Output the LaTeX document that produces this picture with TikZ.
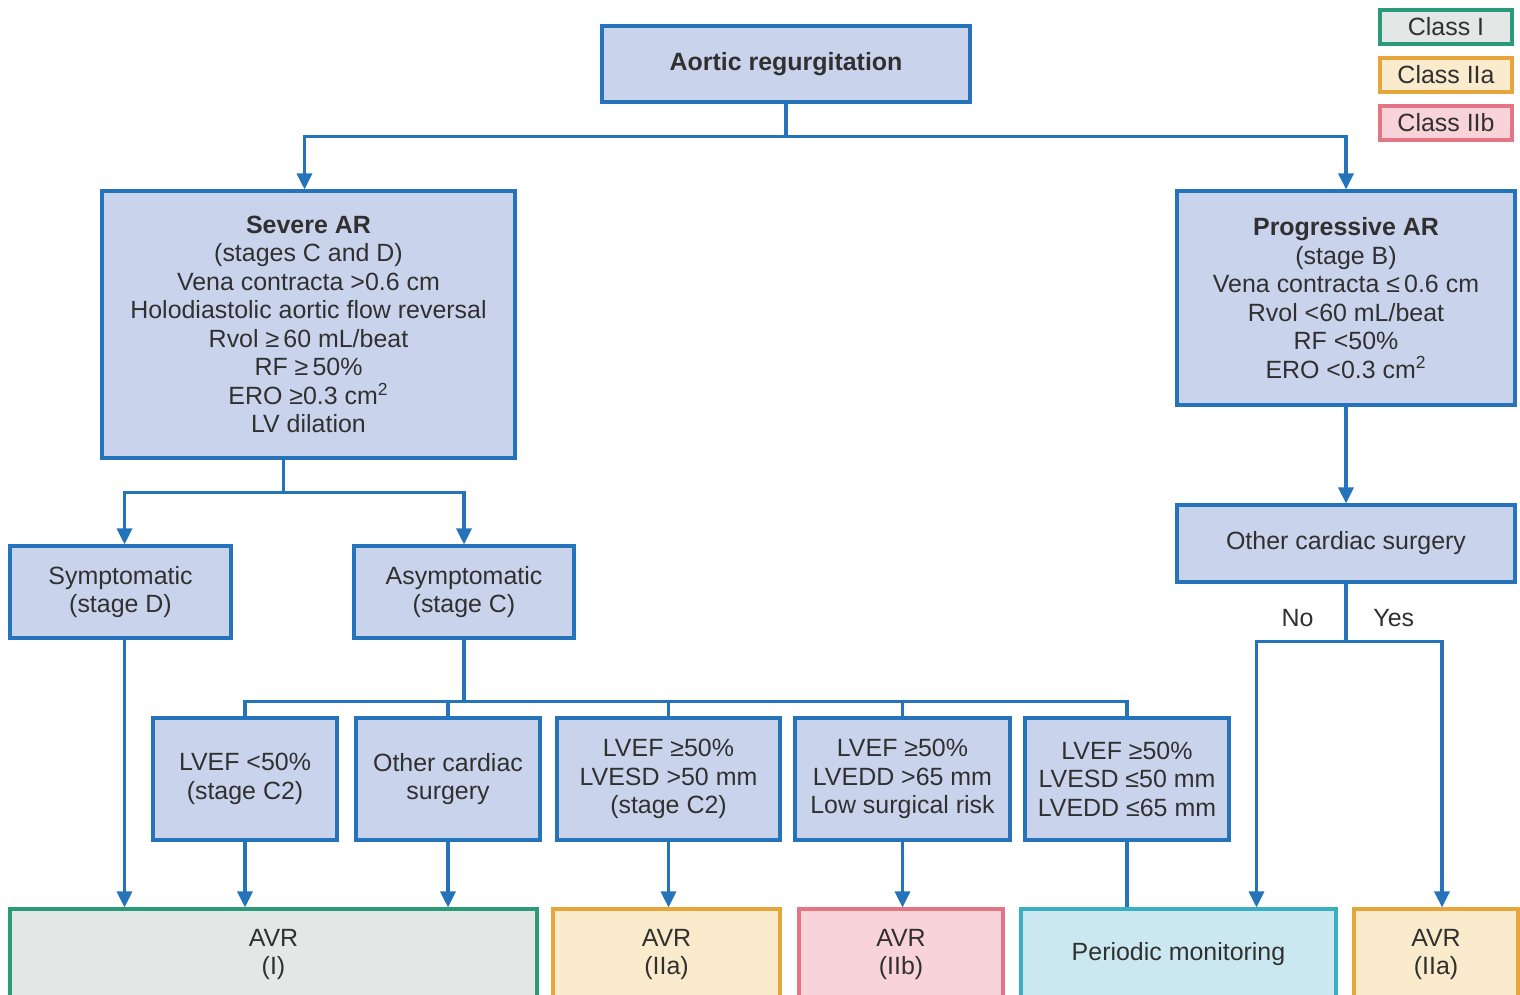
\documentclass[tikz,border=0pt]{standalone}
\usepackage{fontspec}
\setmainfont{Liberation Sans}
\usetikzlibrary{arrows.meta,positioning}
\definecolor{flowblue}{HTML}{2573BA}
\definecolor{boxfill}{HTML}{C9D4EC}
\definecolor{inktext}{HTML}{303030}
\definecolor{classIline}{HTML}{2A9A78}
\definecolor{classIfill}{HTML}{E3E8E6}
\definecolor{classIIaline}{HTML}{E6A63C}
\definecolor{classIIafill}{HTML}{F9EBCC}
\definecolor{classIIbline}{HTML}{E47584}
\definecolor{classIIbfill}{HTML}{F9D3DA}
\definecolor{monline}{HTML}{3AAFC2}
\definecolor{monfill}{HTML}{CBE8F0}

\begin{document}
\begin{tikzpicture}[
    x=0.02cm, y=-0.02cm,
    every node/.style={font=\fontsize{14.2}{16.2}\selectfont, text=inktext},
    box/.style={
        rectangle,
        draw=flowblue,
        fill=boxfill,
        line width=1.8pt,
        align=center,
        inner sep=2pt
    },
    result/.style={rectangle, line width=1.8pt, align=center, inner sep=2pt},
    classI/.style={result, draw=classIline, fill=classIfill},
    classIIa/.style={result, draw=classIIaline, fill=classIIafill},
    classIIb/.style={result, draw=classIIbline, fill=classIIbfill},
    watch/.style={result, draw=monline, fill=monfill},
    link/.style={draw=flowblue, line width=1.8pt},
    arrow/.style={link, -{Triangle[length=0.32cm, width=0.3cm]}}
]
    \useasboundingbox (0,0) rectangle (1520,994);
    \clip (0,0) rectangle (1520,994);

    % legend
    \node[classI, minimum width=2.64cm, minimum height=0.68cm] (keyI) at (1446,27) {Class I};
    \node[classIIa, minimum width=2.64cm, minimum height=0.68cm] (keyIIa) at (1446,75) {Class IIa};
    \node[classIIb, minimum width=2.64cm, minimum height=0.68cm] (keyIIb) at (1446,123) {Class IIb};

    % first two levels
    \node[box, minimum width=7.36cm, minimum height=1.52cm] (ar) at (786,64)
        {\textbf{Aortic regurgitation}};
    \node[box, minimum width=8.26cm, minimum height=5.34cm] (severe) at (308.5,324.5)
        {\textbf{Severe AR}\\(stages C and D)\\Vena contracta >0.6 cm\\
         Holodiastolic aortic flow reversal\\Rvol ≥\,60 mL/beat\\RF ≥\,50\%\\
         ERO ≥0.3 cm\textsuperscript{2}\\LV dilation};
    \node[box, minimum width=6.76cm, minimum height=4.28cm] (prog) at (1346,298)
        {\textbf{Progressive AR}\\(stage B)\\Vena contracta ≤\,0.6 cm\\
         Rvol <60 mL/beat\\RF <50\%\\ERO <0.3 cm\textsuperscript{2}};
    \node[box, minimum width=6.76cm, minimum height=1.54cm] (surgR) at (1346,543.5)
        {Other cardiac surgery};

    % stage split
    \node[box, minimum width=4.42cm, minimum height=1.84cm] (symp) at (120.5,592)
        {Symptomatic\\(stage D)};
    \node[box, minimum width=4.40cm, minimum height=1.84cm] (asymp) at (464,592)
        {Asymptomatic\\(stage C)};

    % asymptomatic criteria
    \node[box, minimum width=3.68cm, minimum height=2.44cm] (lowef) at (245,779)
        {LVEF <50\%\\(stage C2)};
    \node[box, minimum width=3.68cm, minimum height=2.44cm] (surgL) at (448,779)
        {Other cardiac\\surgery};
    \node[box, minimum width=4.46cm, minimum height=2.44cm] (esd) at (668.5,779)
        {LVEF ≥50\%\\LVESD >50 mm\\(stage C2)};
    \node[box, minimum width=4.30cm, minimum height=2.44cm] (edd) at (902.5,779)
        {LVEF ≥50\%\\LVEDD >65 mm\\Low surgical risk};
    \node[box, minimum width=4.08cm, minimum height=2.44cm] (normal) at (1127,779)
        {LVEF ≥50\%\\LVESD ≤50 mm\\LVEDD ≤65 mm};

    % outcomes
    \node[classI, minimum width=10.54cm, minimum height=1.82cm] (avrI) at (273.5,954.5)
        {AVR\\(I)};
    \node[classIIa, minimum width=4.54cm, minimum height=1.82cm] (avrIIa) at (666.5,954.5)
        {AVR\\(IIa)};
    \node[classIIb, minimum width=4.08cm, minimum height=1.82cm] (avrIIb) at (901,954.5)
        {AVR\\(IIb)};
    \node[watch, minimum width=6.30cm, minimum height=1.82cm] (monitor) at (1178.5,954.5)
        {Periodic monitoring};
    \node[classIIa, minimum width=3.28cm, minimum height=1.82cm] (avrB) at (1436,954.5)
        {AVR\\(IIa)};

    % connectors
    \draw[arrow] (ar.south) -- ++(0,33) -| ([xshift=-0.08cm]severe.north);
    \draw[arrow] (ar.south) -- ++(0,33) -| (prog.north);
    \draw[link] ([xshift=-0.5cm]severe.south) -- ++(0,33) coordinate (stagesplit);
    \draw[arrow] (stagesplit) -| ([xshift=0.08cm]symp.north);
    \draw[arrow] (stagesplit) -| (asymp.north);

    \draw[link] (asymp.south) -- ++(0,62) coordinate (critsplit);
    \draw[link] (lowef.north) |- (critsplit) -| (normal.north);
    \foreach \n in {surgL,esd,edd}
        \draw[link] (\n.north) -- (\n.north |- critsplit);

    \draw[arrow] ([xshift=0.08cm]symp.south) -- ([xshift=0.08cm]symp.south |- avrI.north);
    \draw[arrow] (lowef.south) -- (lowef.south |- avrI.north);
    \draw[arrow] (surgL.south) -- (surgL.south |- avrI.north);
    \draw[arrow] (esd.south) -- (esd.south |- avrIIa.north);
    \draw[arrow] (edd.south) -- (edd.south |- avrIIb.north);
    \draw[link] (normal.south) -- (normal.south |- monitor.north);

    \draw[arrow] (prog.south) -- (surgR.north);
    \draw[link] (surgR.south) -- node[pos=0.6, left=0.5cm]{No}
        node[pos=0.6, right=0.4cm]{Yes} ++(0,58) coordinate (yesno);
    \draw[arrow] (yesno) -| ([xshift=1.56cm]monitor.north);
    \draw[arrow] (yesno) -| ([xshift=0.12cm]avrB.north);
\end{tikzpicture}
\end{document}
